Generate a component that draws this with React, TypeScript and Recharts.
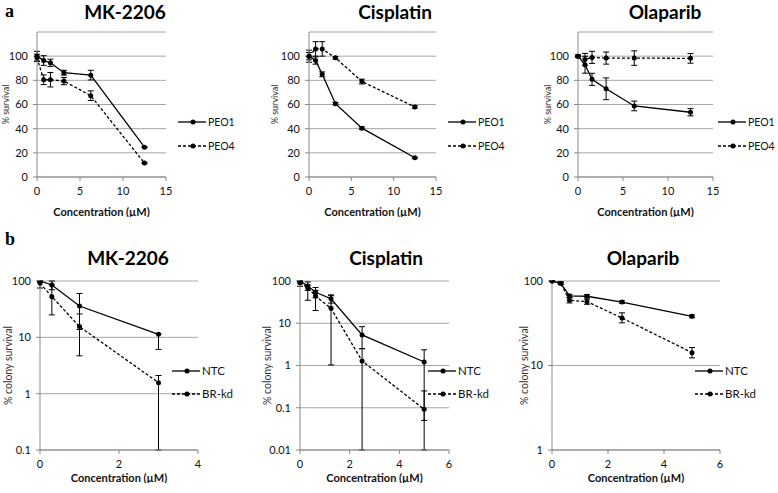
import React from "react";
import {
  LineChart,
  Line,
  XAxis,
  YAxis,
  CartesianGrid,
  ErrorBar,
  Legend
} from "recharts";

// ---- panel a: % survival (linear) ----
const concA = [0, 0.78, 1.56, 3.125, 6.25, 12.5];

const mkPeo1 = [100, 96.4, 94.5, 86.3, 84.3, 24.7];
const mkPeo1Err = [4, 4, 3, 2, 4, 0.5];
const mkPeo4 = [98.6, 80.5, 80.5, 79.4, 67.3, 11.5];
const mkPeo4Err = [3, 4, 6, 3, 4, 0.5];

const cisPeo1 = [100, 96.4, 85, 60.7, 40.4, 15.9];
const cisPeo1Err = [5, 3, 2, 1, 1, 0.5];
const cisPeo4 = [100, 106, 106, 98.6, 79, 58];
const cisPeo4Err = [3, 6, 6, 1, 2, 1];

const olaPeo1 = [100, 92.9, 80.8, 73, 58.8, 53.6];
const olaPeo1Err = [1, 7, 5, 9, 4, 3];
const olaPeo4 = [100, 97.3, 99, 98.4, 98.4, 98.2];
const olaPeo4Err = [1, 5, 5, 5, 6, 4];

const ticksA = [0, 20, 40, 60, 80, 100];
const xTicksA = [0, 5, 10, 15];

// ---- panel b: % colony survival (log) ----
const concMk = [0, 0.3, 1, 3];
const mkNtc = [100, 85, 36, 11.3];
const mkNtcLo = [95, 70, 13.8, 6.1];
const mkNtcHi = [100, 100, 60, 11.6];
const mkBr = [92, 52.7, 15.5, 1.57];
const mkBrLo = [75, 25, 4.7, 0.1];
const mkBrHi = [100, 85, 26, 2.1];

const concB = [0, 0.3125, 0.625, 1.25, 2.5, 5];
const cisNtc = [100, 76, 54, 38, 5.3, 1.21];
const cisNtcLo = [90, 35, 40, 30, 2.5, 0.01];
const cisNtcHi = [100, 95, 70, 47, 8.3, 2.35];
const cisBr = [91, 69, 44, 22.5, 1.28, 0.092];
const cisBrLo = [75, 60, 20, 1.03, 0.01, 0.05];
const cisBrHi = [100, 80, 60, 45, 2.5, 0.25];

const olaNtc = [100, 94, 66.5, 66, 56.4, 38.2];
const olaNtcLo = [99, 91, 63.5, 63, 54.4, 36.7];
const olaNtcHi = [101, 97, 69.5, 69, 58.4, 39.7];
const olaBr = [100, 94, 59, 57, 36.5, 14.2];
const olaBrLo = [99, 91, 55, 53, 32, 12.3];
const olaBrHi = [101, 97, 63, 61, 42, 16.3];

const GRID = "#a6a6a6";
const AXIS = "#888888";
const FONT = "Lato, 'Open Sans', sans-serif";

type Err = number | [number, number];

const sym = (e: number[]): Err[] => e;
const span = (v: number[], lo: number[], hi: number[]): Err[] =>
  v.map((y, i) => [y - lo[i], hi[i] - y] as [number, number]);

const rows = (x: number[], s1: number[], e1: Err[], s2: number[], e2: Err[]) =>
  x.map((c, i) => ({ x: c, s1: s1[i], e1: e1[i], s2: s2[i], e2: e2[i] }));

const legendContent = (props: any) => {
  const items = [...(props.payload || [])].sort((a: any, b: any) =>
    String(a.dataKey).localeCompare(String(b.dataKey))
  );
  return (
    <div>
      {items.map((entry: any, i: number) => (
        <div
          key={i}
          style={{ display: "flex", alignItems: "center", height: props.rowH }}
        >
          <svg width={28} height={8}>
            <line
              x1={0}
              y1={4}
              x2={28}
              y2={4}
              stroke="#000"
              strokeWidth={1.3}
              strokeDasharray={i === 1 ? "3 2" : undefined}
            />
            <circle cx={15} cy={4} r={2.5} fill="#000" />
          </svg>
          <span style={{ marginLeft: 2, fontSize: props.fs, color: "#111" }}>
            {entry.value}
          </span>
        </div>
      ))}
    </div>
  );
};

type PanelProps = {
  left: number;
  top: number;
  width: number;
  height: number;
  yW: number;
  mTop: number;
  mRight: number;
  xH: number;
  data: any[];
  xDomain: [number, number];
  xTicks: number[];
  yDomain: [number, number];
  yTicks: number[];
  log?: boolean;
  yLabel: string;
  yLabelX: number;
  yLabelSize: number;
  names: [string, string];
  legendX: number;
  legendY: number;
  legendRow: number;
  legendFs: number;
};

function Panel(p: PanelProps) {
  return (
    <div style={{ position: "absolute", left: p.left, top: p.top }}>
      <LineChart
        width={p.width}
        height={p.height}
        data={p.data}
        margin={{ top: p.mTop, right: p.mRight, bottom: 0, left: 0 }}
      >
        <CartesianGrid vertical={false} stroke={GRID} strokeWidth={1} />
        <XAxis
          dataKey="x"
          type="number"
          domain={p.xDomain}
          ticks={p.xTicks}
          height={p.xH}
          stroke={AXIS}
          tickSize={4}
          tickMargin={6}
          tick={{ fontSize: 11, fill: "#111" }}
          label={{
            value: "Concentration (µM)",
            position: "insideBottom",
            offset: 1,
            style: { fontSize: 11, fontWeight: 700, fill: "#111" }
          }}
        />
        <YAxis
          type="number"
          scale={p.log ? "log" : "auto"}
          domain={p.yDomain}
          ticks={p.yTicks}
          allowDataOverflow
          width={p.yW}
          stroke={AXIS}
          tickSize={4}
          tickMargin={5}
          tick={{ fontSize: 11, fill: "#111" }}
          tickFormatter={(v: number) => String(v)}
          label={{
            value: p.yLabel,
            angle: -90,
            position: "insideLeft",
            offset: p.yLabelX,
            style: { textAnchor: "middle", fontSize: p.yLabelSize, fill: "#333" }
          }}
        />
        <Legend
          layout="horizontal"
          align="center"
          verticalAlign="middle"
          content={(lp: any) =>
            legendContent({ ...lp, rowH: p.legendRow, fs: p.legendFs })
          }
          wrapperStyle={{
            position: "absolute",
            left: p.legendX,
            top: p.legendY,
            width: "auto",
            height: "auto"
          }}
        />
        <Line
          dataKey="s1"
          name={p.names[0]}
          stroke="#000"
          strokeWidth={1.3}
          dot={{ r: 2.5, fill: "#000", stroke: "#000", strokeWidth: 0 }}
          isAnimationActive={false}
        >
          <ErrorBar dataKey="e1" direction="y" width={3} stroke="#000" strokeWidth={1} />
        </Line>
        <Line
          dataKey="s2"
          name={p.names[1]}
          stroke="#000"
          strokeWidth={1.3}
          strokeDasharray="3 2"
          dot={{ r: 2.5, fill: "#000", stroke: "#000", strokeWidth: 0 }}
          isAnimationActive={false}
        >
          <ErrorBar dataKey="e2" direction="y" width={3} stroke="#000" strokeWidth={1} />
        </Line>
      </LineChart>
    </div>
  );
}

const Title = ({ x, y, text }: { x: number; y: number; text: string }) => (
  <div
    style={{
      position: "absolute",
      left: x - 80,
      top: y,
      width: 160,
      textAlign: "center",
      fontSize: 19,
      fontWeight: 700,
      lineHeight: "20px",
      color: "#000"
    }}
  >
    {text}
  </div>
);

const Letter = ({ y, text }: { y: number; text: string }) => (
  <div
    style={{
      position: "absolute",
      left: 5,
      top: y,
      fontFamily: "'Liberation Serif', 'DejaVu Serif', serif",
      fontWeight: 700,
      fontSize: 18,
      lineHeight: "18px"
    }}
  >
    {text}
  </div>
);

export default function App() {
  const peo: [string, string] = ["PEO1", "PEO4"];
  const ntc: [string, string] = ["NTC", "BR-kd"];
  const aCommon = {
    top: 22,
    height: 195,
    mTop: 10,
    xH: 40,
    xDomain: [0, 15] as [number, number],
    xTicks: xTicksA,
    yDomain: [0, 120] as [number, number],
    yTicks: ticksA,
    yLabel: "% survival",
    yLabelSize: 9,
    legendY: 88,
    legendRow: 24,
    legendFs: 10.5
  };
  const bCommon = {
    top: 271,
    height: 212,
    mTop: 10,
    xH: 33,
    log: true,
    yLabel: "% colony survival",
    yLabelSize: 10.5,
    legendY: 88,
    legendRow: 23,
    legendFs: 11.5
  };
  return (
    <div
      style={{
        position: "absolute",
        left: 0,
        top: 0,
        width: 778,
        height: 493,
        background: "#fff",
        fontFamily: FONT,
        overflow: "hidden"
      }}
    >
      <Letter y={2} text="a" />
      <Letter y={230} text="b" />

      <Title x={125} y={2} text="MK-2206" />
      <Title x={395} y={2} text="Cisplatin" />
      <Title x={665} y={2} text="Olaparib" />
      <Title x={128} y={248} text="MK-2206" />
      <Title x={386} y={248} text="Cisplatin" />
      <Title x={643} y={248} text="Olaparib" />

      <Panel
        {...aCommon}
        left={0}
        width={260}
        yW={37}
        mRight={94}
        data={rows(concA, mkPeo1, sym(mkPeo1Err), mkPeo4, sym(mkPeo4Err))}
        yLabelX={6}
        names={peo}
        legendX={178}
      />
      <Panel
        {...aCommon}
        left={269}
        width={250}
        yW={40}
        mRight={83}
        data={rows(concA, cisPeo1, sym(cisPeo1Err), cisPeo4, sym(cisPeo4Err))}
        yLabelX={6}
        names={peo}
        legendX={179}
      />
      <Panel
        {...aCommon}
        left={538}
        width={240}
        yW={40}
        mRight={65}
        data={rows(concA, olaPeo1, sym(olaPeo1Err), olaPeo4, sym(olaPeo4Err))}
        yLabelX={10}
        names={peo}
        legendX={180}
      />

      <Panel
        {...bCommon}
        left={0}
        width={260}
        yW={40}
        mRight={62}
        data={rows(
          concMk,
          mkNtc,
          span(mkNtc, mkNtcLo, mkNtcHi),
          mkBr,
          span(mkBr, mkBrLo, mkBrHi)
        )}
        xDomain={[0, 4]}
        xTicks={[0, 2, 4]}
        yDomain={[0.1, 100]}
        yTicks={[0.1, 1, 10, 100]}
        yLabelX={8}
        names={ntc}
        legendX={172}
      />
      <Panel
        {...bCommon}
        left={260}
        width={258}
        yW={40}
        mRight={69}
        data={rows(
          concB,
          cisNtc,
          span(cisNtc, cisNtcLo, cisNtcHi),
          cisBr,
          span(cisBr, cisBrLo, cisBrHi)
        )}
        xDomain={[0, 6]}
        xTicks={[0, 2, 4, 6]}
        yDomain={[0.01, 100]}
        yTicks={[0.01, 0.1, 1, 10, 100]}
        yLabelX={7}
        names={ntc}
        legendX={168}
      />
      <Panel
        {...bCommon}
        left={518}
        width={260}
        yW={34}
        mRight={58}
        data={rows(
          concB,
          olaNtc,
          span(olaNtc, olaNtcLo, olaNtcHi),
          olaBr,
          span(olaBr, olaBrLo, olaBrHi)
        )}
        xDomain={[0, 6]}
        xTicks={[0, 2, 4, 6]}
        yDomain={[1, 100]}
        yTicks={[1, 10, 100]}
        yLabelX={6}
        names={ntc}
        legendX={177}
      />
    </div>
  );
}
